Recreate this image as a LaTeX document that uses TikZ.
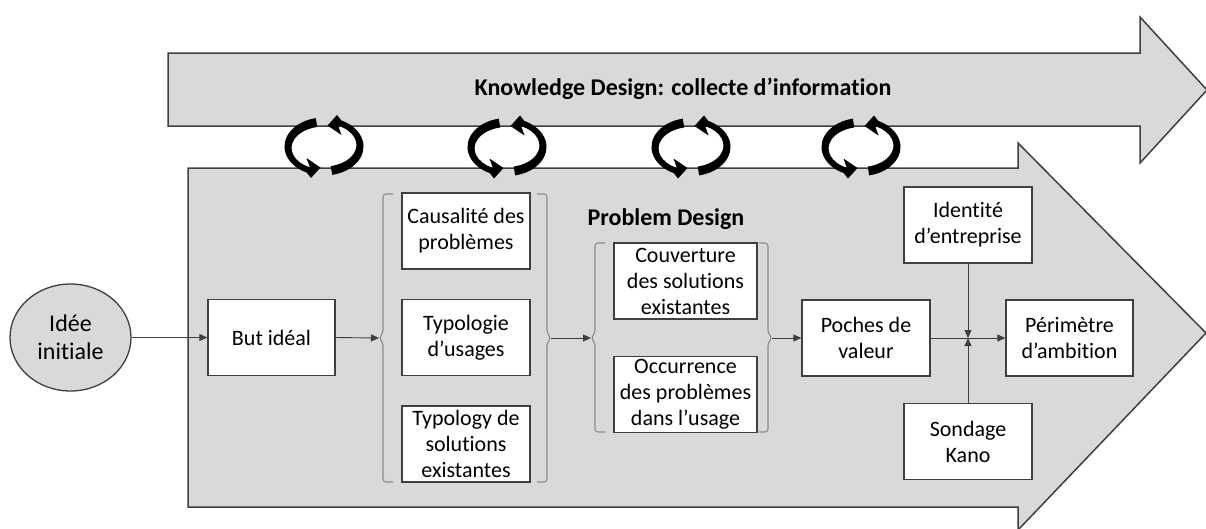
\documentclass[tikz,border=0pt]{standalone}
\usepackage{fontspec}
\setmainfont[Ligatures=NoCommon]{Carlito}
\usetikzlibrary{arrows.meta,shapes.geometric}
\definecolor{fillgray}{HTML}{D9D9D9}
\definecolor{edgegray}{HTML}{3F3F3F}
\definecolor{brkgray}{HTML}{8C8C8C}
\newcommand\cycpiecepath{(102:39.5 and 29) arc[start angle=102,end angle=244,x radius=39.5,y radius=29] -- (-13,-31.5) -- (-3.5,-21) -- (-17.5,-11.5) -- (-14.2,-20.8) arc[start angle=244,end angle=102,x radius=32.5,y radius=21.5] -- cycle}
\begin{document}
\begin{tikzpicture}[x=1pt,y=1pt,
  box/.style={draw=edgegray,line width=1.3pt,fill=white,minimum width=128pt,minimum height=76pt,align=center,inner sep=0pt,font=\fontsize{22}{26}\selectfont},
  widebox/.style={box,minimum width=143pt},
  conn/.style={draw=edgegray,line width=0.9pt,-{Triangle[length=8pt,width=7pt]}},
  brace/.style={draw=brkgray,line width=1.1pt,rounded corners=3pt},
  bigarrow/.style={fill=fillgray,draw=edgegray,line width=1.5pt,line join=miter},
  title/.style={font=\fontsize{24}{28}\selectfont\bfseries},
  cyc/.pic={\fill[black] \cycpiecepath; \fill[black,rotate=180] \cycpiecepath;}]
\useasboundingbox (0,0) rectangle (1206,-528);
\clip (0,0) rectangle (1206,-528);
% big arrows
\draw[bigarrow] (188,-168) -- (1018,-168) -- (1018,-143) -- (1206,-333) -- (1018,-530) -- (1018,-507) -- (188,-507) -- cycle;
\draw[bigarrow] (168,-53) -- (1140,-53) -- (1140,-17) -- (1207,-90) -- (1140,-163) -- (1140,-126) -- (168,-126) -- cycle;
\node[title] (kd) at (683,-89) {Knowledge Design: collecte d’information};
\node[title] (pd) at (666,-219) {Problem Design};
% cycle arrows
\pic at (324,-146.5) {cyc};
\pic at (507,-147) {cyc};
\pic at (691,-147) {cyc};
\pic at (861,-147) {cyc};
% nodes
\node[ellipse,draw=edgegray,line width=1.3pt,fill=fillgray,minimum width=121pt,minimum height=107pt,inner sep=0pt,align=center,font=\fontsize{24}{28}\selectfont] (idee) at (70.5,-337.5) {Idée\\initiale};
\node[box,minimum width=127pt] (but) at (271.5,-337.5) {But idéal};
\node[box] (c1) at (466,-231) {Causalité des\\problèmes};
\node[box] (c2) at (466,-337.5) {Typologie\\d’usages};
\node[box] (c3) at (466,-444) {Typology de\\solutions\\existantes};
\node[widebox] (g1) at (685.5,-281) {Couverture\\des solutions\\existantes};
\node[widebox] (g2) at (685.5,-394.5) {Occurrence\\des problèmes\\dans l’usage};
\node[box] (poches) at (866,-338) {Poches de\\valeur};
\node[box] (ident) at (968,-225) {Identité\\d’entreprise};
\node[box] (sond) at (968,-441.5) {Sondage\\Kano};
\node[box,minimum width=127pt] (perim) at (1069.5,-338) {Périmètre\\d’ambition};
% brackets
\draw[brace] (393,-194) -- (383,-194) -- (383,-333) -- (379,-338) -- (383,-343) -- (383,-482) -- (393,-482);
\draw[brace] (537,-194) -- (547,-194) -- (547,-333) -- (551,-338) -- (547,-343) -- (547,-482) -- (537,-482);
\draw[brace] (605,-243) -- (595,-243) -- (595,-333) -- (591,-338) -- (595,-343) -- (595,-432) -- (605,-432);
\draw[brace] (759,-243) -- (768,-243) -- (768,-333) -- (772,-338) -- (768,-343) -- (768,-432) -- (759,-432);
\coordinate (l1) at (379,-338);
\coordinate (r1) at (551,-338);
\coordinate (l2) at (591,-338);
\coordinate (r2) at (772,-338);
\coordinate (junc) at (968,-338);
% connectors
\draw[conn] (idee.east) -- (but.west);
\draw[conn] (but.east) -- (l1);
\draw[conn] (r1) -- (l2);
\draw[conn] (r2) -- (poches.west);
\draw[conn] (poches.east) -- (perim.west);
\draw[conn] (ident.south) -- (junc);
\draw[conn] (sond.north) -- (junc);
\end{tikzpicture}
\end{document}
